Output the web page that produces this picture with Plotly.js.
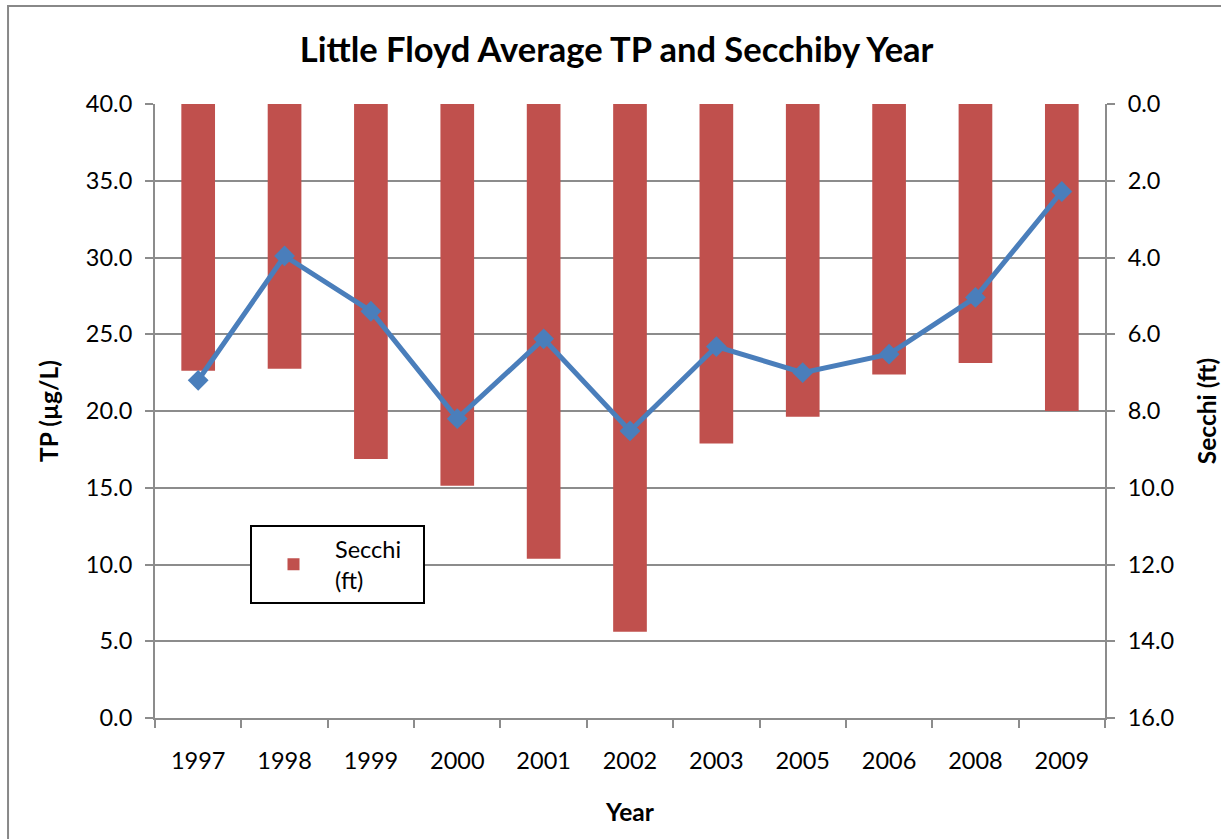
<!DOCTYPE html>
<html>
<head>
<meta charset="utf-8">
<script src="https://cdn.plot.ly/plotly-3.0.1.min.js"></script>
<style>
  html, body { margin: 0; padding: 0; background: #fff; }
  #chart { width: 1221px; height: 839px; }
</style>
</head>
<body>
<div id="chart"></div>
<script>
// Data
var years = ['1997', '1998', '1999', '2000', '2001', '2002', '2003', '2005', '2006', '2008', '2009'];
var secchiFt = [6.95, 6.9, 9.25, 9.95, 11.85, 13.75, 8.85, 8.15, 7.05, 6.75, 8.0];
var tpUgL = [22.0, 30.1, 26.5, 19.5, 24.7, 18.7, 24.2, 22.5, 23.7, 27.4, 34.3];
var tpTicks = [0, 5, 10, 15, 20, 25, 30, 35, 40];
var secchiTicks = [0, 2, 4, 6, 8, 10, 12, 14, 16];

var FONT = 'Lato, "Open Sans", sans-serif';
var GRID = '#8c8c8c';
var TICK = 23.5;
var ATITLE = 24.5;

var traces = [
  {
    type: 'bar',
    name: 'Secchi<br>(ft)',
    x: years,
    y: secchiFt,
    yaxis: 'y',
    marker: { color: '#c0504d' },
    width: 0.39,
    hoverinfo: 'x+y'
  },
  {
    type: 'scatter',
    mode: 'lines+markers',
    name: 'TP (µg/L)',
    x: years,
    y: tpUgL,
    yaxis: 'y2',
    showlegend: false,
    cliponaxis: false,
    line: { color: '#4a7ebb', width: 5 },
    marker: { symbol: 'diamond', size: 16, color: '#4a7ebb' },
    hoverinfo: 'x+y'
  }
];

var layout = {
  width: 1221,
  height: 839,
  margin: { l: 155, r: 116, t: 104, b: 121, pad: 0 },
  paper_bgcolor: '#ffffff',
  plot_bgcolor: '#ffffff',
  font: { family: FONT, size: TICK, color: '#000' },
  title: {
    text: '<b>Little Floyd Average TP and Secchiby Year</b>',
    font: { family: FONT, size: 34.5, color: '#000' },
    x: 0.505, xanchor: 'center',
    y: 0.94, yanchor: 'middle'
  },
  xaxis: {
    type: 'category',
    categoryorder: 'array',
    categoryarray: years,
    range: [-0.5, years.length - 0.5],
    autorange: false,
    tickson: 'boundaries',
    ticks: 'outside',
    ticklen: 8,
    tickwidth: 2,
    tickcolor: GRID,
    showline: true,
    linecolor: GRID,
    linewidth: 2,
    showgrid: false,
    zeroline: false,
    ticklabelstandoff: 21,
    tickfont: { family: FONT, size: TICK, color: '#000' },
    title: { text: '<b>Year</b>', font: { family: FONT, size: ATITLE, color: '#000' }, standoff: 31 }
  },
  yaxis: {
    side: 'right',
    range: [16, 0],
    autorange: false,
    tickvals: secchiTicks,
    ticktext: secchiTicks.map(function (v) { return v.toFixed(1); }),
    ticks: 'outside',
    ticklen: 8,
    tickwidth: 2,
    tickcolor: GRID,
    showline: true,
    linecolor: GRID,
    linewidth: 2,
    showgrid: false,
    zeroline: false,
    ticklabelstandoff: 8,
    tickfont: { family: FONT, size: TICK, color: '#000' },
    title: { text: '<b>Secchi (ft)</b>', font: { family: FONT, size: ATITLE, color: '#000' }, standoff: 28 }
  },
  yaxis2: {
    overlaying: 'y',
    side: 'left',
    range: [0, 40],
    autorange: false,
    tickvals: tpTicks,
    ticktext: tpTicks.map(function (v) { return v.toFixed(1); }),
    ticks: 'outside',
    ticklen: 8,
    tickwidth: 2,
    tickcolor: GRID,
    showline: true,
    linecolor: GRID,
    linewidth: 2,
    showgrid: true,
    gridcolor: GRID,
    gridwidth: 2,
    zeroline: false,
    ticklabelstandoff: 8,
    tickfont: { family: FONT, size: TICK, color: '#000' },
    title: { text: '<b>TP (µg/L)</b>', font: { family: FONT, size: ATITLE, color: '#000' }, standoff: 20 }
  },
  legend: {
    orientation: 'h',
    x: 0.1, xanchor: 'left',
    y: 0.314, yanchor: 'top',
    bgcolor: '#ffffff',
    bordercolor: '#000000',
    borderwidth: 2,
    font: { family: FONT, size: TICK, color: '#000' },
    itemwidth: 73,
    entrywidth: 83,
    entrywidthmode: 'pixels'
  },
  shapes: [
    {
      type: 'rect', xref: 'paper', yref: 'paper',
      x0: -0.1547, x1: 1.25, y0: -0.3, y1: 1.1596,
      line: { color: '#888888', width: 2 },
      fillcolor: 'rgba(0,0,0,0)',
      layer: 'above'
    }
  ],
  showlegend: true,
  hovermode: 'closest'
};

Plotly.newPlot('chart', traces, layout, { displayModeBar: false });
</script>
</body>
</html>
